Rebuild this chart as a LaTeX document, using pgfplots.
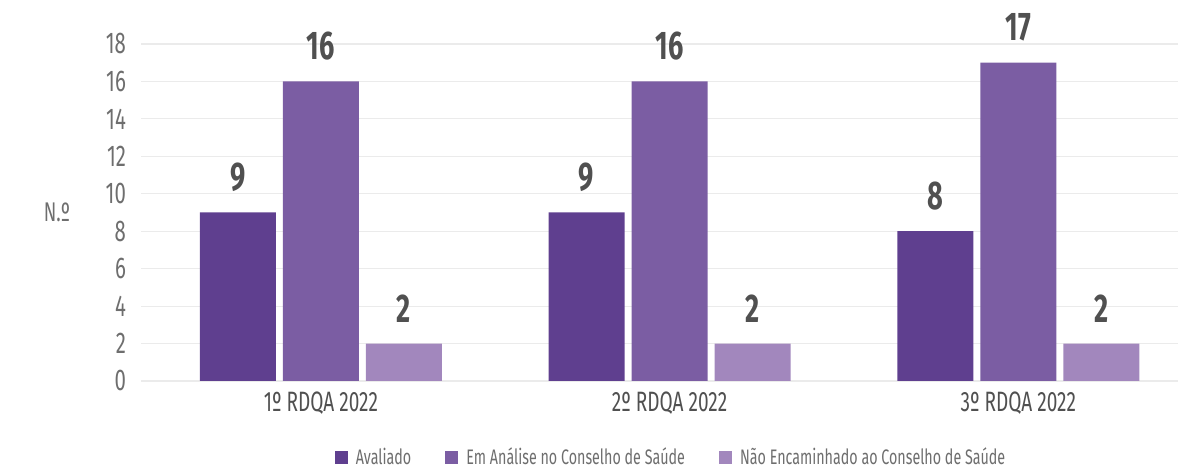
\documentclass[border=0pt]{standalone}
\usepackage{fontspec}
\setmainfont{Fira Sans}[FakeStretch=0.68]
\usepackage{pgfplots}
\pgfplotsset{compat=1.18}
\definecolor{avaliado}{HTML}{5F3F8F}
\definecolor{emanalise}{HTML}{7B5DA3}
\definecolor{naoenc}{HTML}{A287BD}
\definecolor{gridgray}{HTML}{EBEBEB}
\definecolor{ticktext}{HTML}{6E6E6E}
\definecolor{labeltext}{HTML}{505050}

\begin{document}
\begin{tikzpicture}
\useasboundingbox (-70.5pt,-44pt) rectangle (518.5pt,190.5pt);
\begin{axis}[
  at={(0,0)}, anchor=south west,
  scale only axis, width=518.5pt, height=168.5pt,
  ybar=3.5pt, bar width=38pt,
  xmin=-0.516, xmax=2.458,
  ymin=0, ymax=18,
  xtick={0,1,2},
  xticklabels={1º RDQA 2022, 2º RDQA 2022, 3º RDQA 2022},
  ytick={0,2,...,18},
  ymajorgrids, grid style={gridgray, line width=0.6pt},
  axis line style={draw=none},
  major tick length=0pt,
  tick style={draw=none},
  /pgf/number format/assume math mode=true,
  yticklabel style={font=\fontsize{15}{16}\selectfont, text=ticktext, xshift=-4pt},
  xticklabel style={font=\fontsize{14}{15}\selectfont, text=labeltext, yshift=-2pt},
  ylabel={N.º},
  ylabel style={rotate=-90, anchor=center, at={(axis description cs:-0.081,0.5)},
    font=\fontsize{13.5}{14}\selectfont, text=ticktext},
  clip=false,
  nodes near coords,
  every node near coord/.append style={anchor=center, yshift=17.5pt,
    font=\fontsize{20}{21}\selectfont\bfseries, text=labeltext},
  legend columns=3,
  legend style={at={(0.512,-0.228)}, anchor=center, draw=none,
    font=\fontsize{10.5}{11}\selectfont, text=ticktext,
    /tikz/every even column/.append style={column sep=15pt}},
]
\addplot[fill=avaliado, draw=none, area legend,
  legend image code/.code={\fill[avaliado] (0pt,-3.3pt) rectangle (6.6pt,3.3pt);}]
  coordinates {(0,9) (1,9) (2,8)};
\addplot[fill=emanalise, draw=none, area legend,
  legend image code/.code={\fill[emanalise] (0pt,-3.3pt) rectangle (6.6pt,3.3pt);}]
  coordinates {(0,16) (1,16) (2,17)};
\addplot[fill=naoenc, draw=none, area legend,
  legend image code/.code={\fill[naoenc] (0pt,-3.3pt) rectangle (6.6pt,3.3pt);}]
  coordinates {(0,2) (1,2) (2,2)};
\legend{\hspace{2pt}Avaliado, \hspace{2pt}Em Análise no Conselho de Saúde, \hspace{2pt}Não Encaminhado ao Conselho de Saúde}
\end{axis}
\end{tikzpicture}
\end{document}
